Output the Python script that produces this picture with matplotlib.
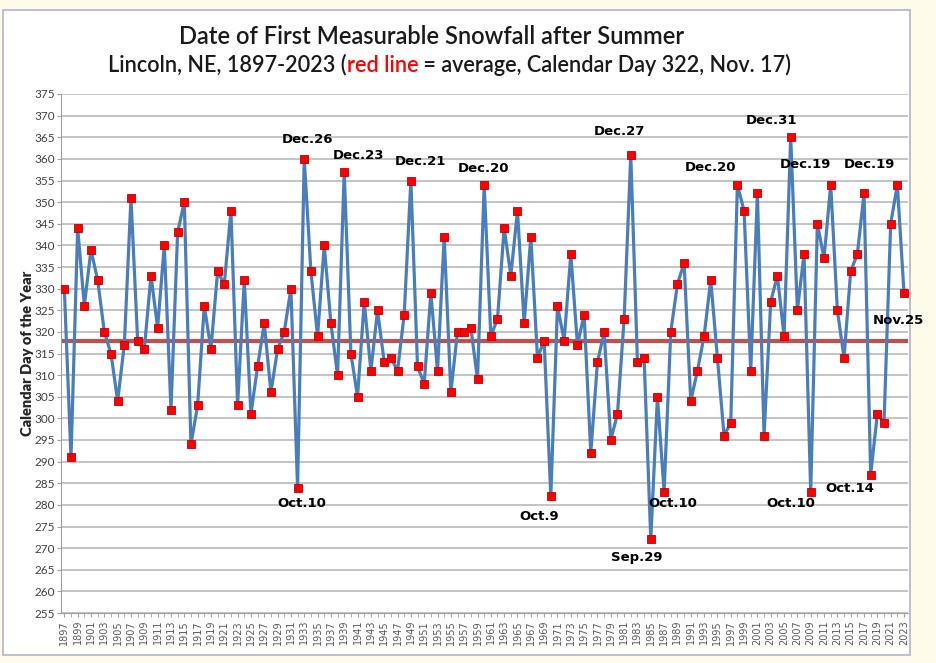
import matplotlib
matplotlib.use("Agg")
import matplotlib.pyplot as plt
from matplotlib.patches import Rectangle
import numpy as np

# годы и календарный день первого снегопада
years = list(range(1897, 2024))
days = [330, 291, 344, 326, 339, 332, 320, 315, 304, 317,
        351, 318, 316, 333, 321, 340, 302, 343, 350, 294,
        303, 326, 316, 334, 331, 348, 303, 332, 301, 312,
        322, 306, 316, 320, 330, 284, 360, 334, 319, 340,
        322, 310, 357, 315, 305, 327, 311, 325, 313, 314,
        311, 324, 355, 312, 308, 329, 311, 342, 306, 320,
        320, 321, 309, 354, 319, 323, 344, 333, 348, 322,
        342, 314, 318, 282, 326, 318, 338, 317, 324, 292,
        313, 320, 295, 301, 323, 361, 313, 314, 272, 305,
        283, 320, 331, 336, 304, 311, 319, 332, 314, 296,
        299, 354, 348, 311, 352, 296, 327, 333, 319, 365,
        325, 338, 283, 345, 337, 354, 325, 314, 334, 338,
        352, 287, 301, 299, 345, 354, 329]
average = 318

# подписи экстремумов
note_text = ['Dec.26', 'Dec.23', 'Dec.21', 'Dec.20', 'Dec.27', 'Dec.20',
             'Dec.31', 'Dec.19', 'Dec.19', 'Nov.25',
             'Oct.10', 'Oct.9', 'Sep.29', 'Oct.10', 'Oct.10', 'Oct.14']
note_x = [1933.5, 1941.1, 1950.4, 1959.9, 1980.3, 1994.0,
          2003.1, 2008.2, 2017.8, 2022.1,
          1932.7, 1968.3, 1982.9, 1988.3, 2006.0, 2014.9]
note_y = [364.4, 360.7, 359.3, 357.7, 366.4, 358.1,
          368.8, 358.8, 358.8, 322.7,
          280.4, 277.2, 267.9, 280.4, 280.4, 283.7]

W, H = 937, 663
fig = plt.figure(figsize=(W / 100, H / 100), dpi=100)
fig.patch.set_facecolor('#FFFBEA')
fig.patches.append(Rectangle((3 / W, 1 - 655 / H), 907 / W, 645 / H,
                             transform=fig.transFigure, facecolor='white',
                             edgecolor='#B4B4CC', lw=1.2, zorder=-5))

ax = fig.add_axes([61 / W, 1 - 613 / H, 847 / W, 519 / H])
ax.set_facecolor('white')

ax.plot(years, days, color='#4A7EBB', lw=2.3, zorder=3)
ax.plot(years, days, ls='none', marker='s', ms=5.2, mfc='#FF0000',
        mec='#C00000', mew=0.6, zorder=4)
ax.axhline(average, color='#C0504D', lw=3, zorder=2)

ax.set_xlim(1896.5, 2023.6)
ax.set_ylim(255, 375)
ax.set_yticks(np.arange(255, 376, 5))
ax.set_xticks(years[::2])
ax.set_xticks(years, minor=True)
ax.set_xticklabels([str(y) for y in years[::2]], rotation=90,
                   fontsize=7, color='#595959')
ax.tick_params(axis='y', labelsize=8.5, labelcolor='#404040', length=3,
               color='#A0A0A0', pad=1.5)
ax.tick_params(axis='x', which='both', length=3, color='#A0A0A0', pad=2)
for lab in ax.get_yticklabels():
    lab.set_family(['Lato', 'DejaVu Sans'])

ax.grid(axis='y', color='#BFBFBF', lw=1.3, zorder=0)
ax.set_axisbelow(True)
for s in ['top', 'right']:
    ax.spines[s].set_visible(False)
ax.spines['left'].set_color('#A0A0A0')
ax.spines['bottom'].set_color('#A0A0A0')

ax.set_ylabel('Calendar Day of the Year', fontsize=10.5, fontweight='heavy',
              family=['Lato', 'DejaVu Sans'], color='#262626')
ax.yaxis.set_label_coords(-0.032, 0.5)

for t, x, y in zip(note_text, note_x, note_y):
    ax.text(x, y, t, ha='center', va='center', fontsize=9.5,
            fontweight='bold', color='black', zorder=5, clip_on=False)

# заголовок, подгоняем ширину строк
renderer = fig.canvas.get_renderer()
tfont = ['Lato', 'DejaVu Sans']


def width_px(txt, size):
    t = fig.text(0, 0, txt, fontsize=size, family=tfont, fontweight='semibold')
    w = t.get_window_extent(renderer).width
    t.remove()
    return w


size1 = 15 * 508 / width_px('Date of First Measurable Snowfall after Summer', 15)
fig.text(0.5 * (178 + 686) / W, 1 - 37 / H,
         'Date of First Measurable Snowfall after Summer',
         ha='center', va='center', fontsize=size1, family=tfont,
         fontweight='semibold', color='#1A1A1A')

parts = ['Lincoln, NE, 1897-2023 (', 'red line',
         ' = average, Calendar Day 322, Nov. 17)']
colors = ['#1A1A1A', '#FF0000', '#1A1A1A']
size2 = 15 * 684 / width_px(''.join(parts), 15)
x0 = 108
for p, c in zip(parts, colors):
    t = fig.text(x0 / W, 1 - 65 / H, p, ha='left', va='center',
                 fontsize=size2, family=tfont, fontweight='semibold', color=c)
    x0 += t.get_window_extent(renderer).width

fig.savefig('out.png', dpi=100, facecolor=fig.get_facecolor())
